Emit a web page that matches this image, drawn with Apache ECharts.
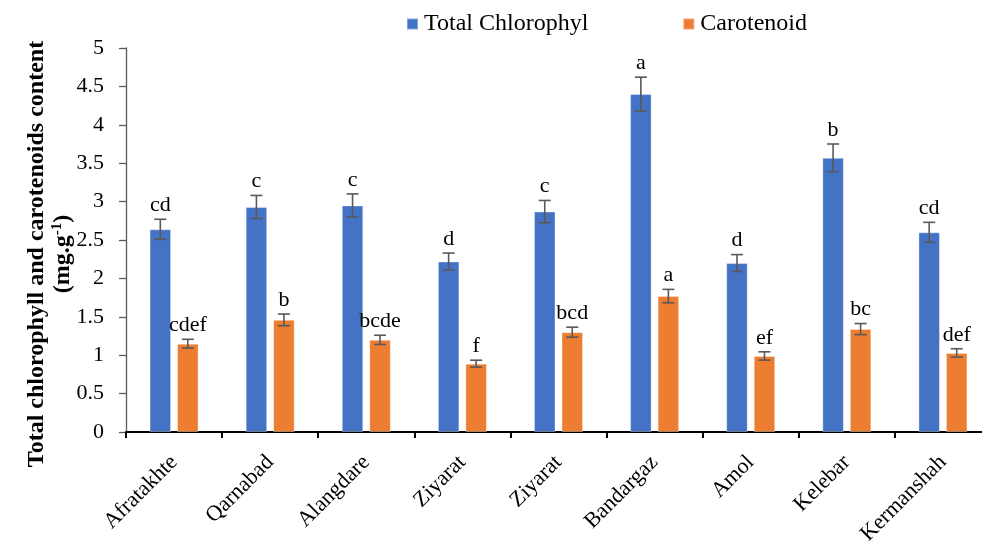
<!DOCTYPE html>
<html>
<head>
<meta charset="utf-8">
<script src="https://cdn.jsdelivr.net/npm/echarts@6/dist/echarts.min.js"></script>
<style>
  html, body { margin: 0; padding: 0; background: #fff; }
  #chart { width: 982px; height: 547px; }
</style>
</head>
<body>
<div id="chart"></div>
<script>
// Sites sampled
const categories = ['Afratakhte', 'Qarnabad', 'Alangdare', 'Ziyarat', 'Ziyarat', 'Bandargaz', 'Amol', 'Kelebar', 'Kermanshah'];

// Total chlorophyll (mg.g-1), standard errors and group letters
const chlValues = [2.64, 2.93, 2.95, 2.22, 2.87, 4.40, 2.20, 3.57, 2.60];
const chlErrors = [0.13, 0.15, 0.15, 0.11, 0.145, 0.22, 0.11, 0.18, 0.13];
const chlLetters = ['cd', 'c', 'c', 'd', 'c', 'a', 'd', 'b', 'cd'];

// Carotenoid (mg.g-1), standard errors and group letters
const carValues = [1.15, 1.46, 1.20, 0.89, 1.30, 1.77, 0.99, 1.34, 1.03];
const carErrors = [0.057, 0.076, 0.06, 0.045, 0.065, 0.087, 0.054, 0.072, 0.054];
const carLetters = ['cdef', 'b', 'bcde', 'f', 'bcd', 'a', 'ef', 'bc', 'def'];

// Y axis ticks
const yMin = 0, yMax = 5, yStep = 0.5;

const FONT = '"Liberation Serif", "Times New Roman", serif';
const BLUE = '#4472C4';
const ORANGE = '#ED7D31';
const BAR_W = 21.5;
const BAR_GAP = 6;

const chart = echarts.init(document.getElementById('chart'));

// Error bar + letter drawn over each bar; side = -1 (first bar) or +1 (second bar)
function errorSeries(values, errors, letters, side) {
  return {
    type: 'custom',
    z: 5,
    silent: true,
    data: values.map((v, i) => [i, v, errors[i]]),
    renderItem: function (params, api) {
      const idx = api.value(0);
      const v = api.value(1);
      const e = api.value(2);
      const letter = letters[idx];
      const base = api.coord([idx, v]);
      const x = base[0] + side * (BAR_W + BAR_GAP) / 2;
      const top = api.coord([idx, v + e])[1];
      const bot = api.coord([idx, v - e])[1];
      const cap = 6;
      const ls = { stroke: '#595959', lineWidth: 1.6 };
      return {
        type: 'group',
        children: [
          { type: 'line', shape: { x1: x, y1: top, x2: x, y2: bot }, style: ls },
          { type: 'line', shape: { x1: x - cap, y1: top, x2: x + cap, y2: top }, style: ls },
          { type: 'line', shape: { x1: x - cap, y1: bot, x2: x + cap, y2: bot }, style: ls },
          {
            type: 'text',
            x: x, y: top - 3,
            style: {
              text: letter, font: '22px ' + FONT, fill: '#000',
              align: 'center', verticalAlign: 'bottom'
            }
          }
        ]
      };
    }
  };
}

chart.setOption({
  animation: false,
  backgroundColor: '#fff',
  grid: { left: 126, top: 48, bottom: 115, width: 865, containLabel: false, outerBoundsMode: 'none' },
  legend: {
    data: ['Total Chlorophyl', 'Carotenoid'],
    left: 401, top: 7,
    itemWidth: 11, itemHeight: 11, itemGap: 94,
    icon: 'rect',
    textStyle: { fontFamily: FONT, fontSize: 24, color: '#000', padding: [0, 0, 0, 1] }
  },
  xAxis: {
    type: 'category',
    data: categories,
    axisLine: { lineStyle: { color: '#000', width: 2 } },
    axisTick: { show: true, length: 6, lineStyle: { color: '#000', width: 2 } },
    axisLabel: { rotate: 45, margin: 27, fontFamily: FONT, fontSize: 22, color: '#000', interval: 0 }
  },
  yAxis: {
    type: 'value',
    min: yMin, max: yMax, interval: yStep,
    splitLine: { show: false },
    axisLine: { show: true, lineStyle: { color: '#595959', width: 1.3 } },
    axisTick: { show: true, inside: false, length: 7, lineStyle: { color: '#595959', width: 1.3 } },
    axisLabel: { margin: 22, fontFamily: FONT, fontSize: 22, color: '#000' }
  },
  graphic: [{
    type: 'text',
    x: 50, y: 254,
    rotation: Math.PI / 2,
    style: {
      text: 'Total chlorophyll and carotenoids content\n(mg.g{sup|-1})',
      font: 'bold 24px ' + FONT,
      fill: '#000',
      align: 'center', verticalAlign: 'middle',
      lineHeight: 26,
      rich: {
        sup: { font: 'bold 15px ' + FONT, fill: '#000', verticalAlign: 'top', lineHeight: 26, padding: [0, 0, 12, 0] }
      }
    }
  }],
  series: [
    {
      name: 'Total Chlorophyl', type: 'bar', data: chlValues,
      barWidth: BAR_W, barGap: (BAR_GAP / BAR_W * 100) + '%',
      itemStyle: { color: BLUE, borderColor: 'rgba(255,255,255,0.35)', borderWidth: 1 }
    },
    {
      name: 'Carotenoid', type: 'bar', data: carValues,
      barWidth: BAR_W,
      itemStyle: { color: ORANGE, borderColor: 'rgba(255,255,255,0.35)', borderWidth: 1 }
    },
    errorSeries(chlValues, chlErrors, chlLetters, -1),
    errorSeries(carValues, carErrors, carLetters, 1)
  ]
});
</script>
</body>
</html>
